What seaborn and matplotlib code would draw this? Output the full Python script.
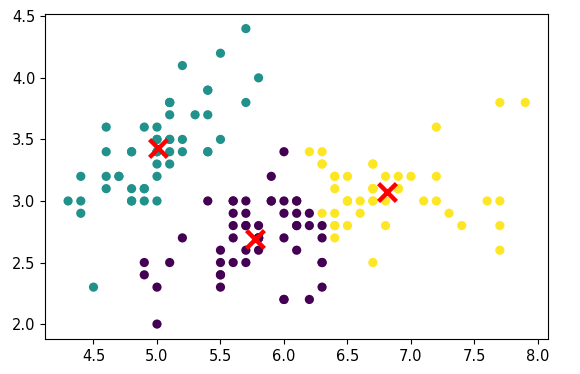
import numpy as np
import pandas as pd
import seaborn as sns
import matplotlib
matplotlib.use('Agg')
import matplotlib.pyplot as plt

# iris sepal length / sepal width, with k-means cluster labels (k=3)
sepal_length = [
    5.1, 4.9, 4.7, 4.6, 5.0, 5.4, 4.6, 5.0, 4.4, 4.9, 5.4, 4.8, 4.8, 4.3, 5.8, 5.7, 5.4, 5.1, 5.7, 5.1,
    5.4, 5.1, 4.6, 5.1, 4.8, 5.0, 5.0, 5.2, 5.2, 4.7, 4.8, 5.4, 5.2, 5.5, 4.9, 5.0, 5.5, 4.9, 4.4, 5.1,
    5.0, 4.5, 4.4, 5.0, 5.1, 4.8, 5.1, 4.6, 5.3, 5.0,
    7.0, 6.4, 6.9, 5.5, 6.5, 5.7, 6.3, 4.9, 6.6, 5.2, 5.0, 5.9, 6.0, 6.1, 5.6, 6.7, 5.6, 5.8, 6.2, 5.6,
    5.9, 6.1, 6.3, 6.1, 6.4, 6.6, 6.8, 6.7, 6.0, 5.7, 5.5, 5.5, 5.8, 6.0, 5.4, 6.0, 6.7, 6.3, 5.6, 5.5,
    5.5, 6.1, 5.8, 5.0, 5.6, 5.7, 5.7, 6.2, 5.1, 5.7,
    6.3, 5.8, 7.1, 6.3, 6.5, 7.6, 4.9, 7.3, 6.7, 7.2, 6.5, 6.4, 6.8, 5.7, 5.8, 6.4, 6.5, 7.7, 7.7, 6.0,
    6.9, 5.6, 7.7, 6.3, 6.7, 7.2, 6.2, 6.1, 6.4, 7.2, 7.4, 7.9, 6.4, 6.3, 6.1, 7.7, 6.3, 6.4, 6.0, 6.9,
    6.7, 6.9, 5.8, 6.8, 6.7, 6.7, 6.3, 6.5, 6.2, 5.9,
]
sepal_width = [
    3.5, 3.0, 3.2, 3.1, 3.6, 3.9, 3.4, 3.4, 2.9, 3.1, 3.7, 3.4, 3.0, 3.0, 4.0, 4.4, 3.9, 3.5, 3.8, 3.8,
    3.4, 3.7, 3.6, 3.3, 3.4, 3.0, 3.4, 3.5, 3.4, 3.2, 3.1, 3.4, 4.1, 4.2, 3.1, 3.2, 3.5, 3.6, 3.0, 3.4,
    3.5, 2.3, 3.2, 3.5, 3.8, 3.0, 3.8, 3.2, 3.7, 3.3,
    3.2, 3.2, 3.1, 2.3, 2.8, 2.8, 3.3, 2.4, 2.9, 2.7, 2.0, 3.0, 2.2, 2.9, 2.9, 3.1, 3.0, 2.7, 2.2, 2.5,
    3.2, 2.8, 2.5, 2.8, 2.9, 3.0, 2.8, 3.0, 2.9, 2.6, 2.4, 2.4, 2.7, 2.7, 3.0, 3.4, 3.1, 2.3, 3.0, 2.5,
    2.6, 3.0, 2.6, 2.3, 2.7, 3.0, 2.9, 2.9, 2.5, 2.8,
    3.3, 2.7, 3.0, 2.9, 3.0, 3.0, 2.5, 2.9, 2.5, 3.6, 3.2, 2.7, 3.0, 2.5, 2.8, 3.2, 3.0, 3.8, 2.6, 2.2,
    3.2, 2.8, 2.8, 2.7, 3.3, 3.2, 2.8, 3.0, 2.8, 3.0, 2.8, 3.8, 2.8, 2.8, 2.6, 3.0, 3.4, 3.1, 3.0, 3.1,
    3.1, 3.1, 2.7, 3.2, 3.3, 3.0, 2.5, 3.0, 3.4, 3.0,
]
cluster = [
    1, 1, 1, 1, 1, 1, 1, 1, 1, 1, 1, 1, 1, 1, 1, 1, 1, 1, 1, 1,
    1, 1, 1, 1, 1, 1, 1, 1, 1, 1, 1, 1, 1, 1, 1, 1, 1, 1, 1, 1,
    1, 1, 1, 1, 1, 1, 1, 1, 1, 1,
    2, 2, 2, 0, 2, 0, 2, 0, 2, 0, 0, 0, 0, 0, 0, 2, 0, 0, 0, 0,
    0, 0, 0, 0, 2, 2, 2, 2, 0, 0, 0, 0, 0, 0, 0, 0, 2, 0, 0, 0,
    0, 0, 0, 0, 0, 0, 0, 0, 0, 0,
    2, 0, 2, 2, 2, 2, 0, 2, 2, 2, 2, 2, 2, 0, 0, 2, 2, 2, 2, 0,
    2, 0, 2, 0, 2, 2, 0, 0, 2, 2, 2, 2, 2, 0, 0, 2, 2, 2, 0, 2,
    2, 2, 0, 2, 2, 2, 0, 2, 2, 0,
]

# cluster centres
centre_x = [5.774, 5.006, 6.813]
centre_y = [2.692, 3.428, 3.074]

df = pd.DataFrame({'x': sepal_length, 'y': sepal_width, 'cluster': cluster})
centres = pd.DataFrame({'x': centre_x, 'y': centre_y})

fig, ax = plt.subplots(figsize=(5.8, 3.74), dpi=100)
plt.subplots_adjust(left=0.078, right=0.945, top=0.963, bottom=0.094)

sns.scatterplot(data=df, x='x', y='y', hue='cluster', palette='viridis',
                hue_norm=(0, 2), s=44, linewidth=0, legend=False, ax=ax)
ax.scatter(centres['x'], centres['y'], marker='x', color='red', s=165, linewidths=3.2)

ax.set_xlabel('')
ax.set_ylabel('')
ax.set_xticks([4.5, 5.0, 5.5, 6.0, 6.5, 7.0, 7.5, 8.0])
ax.set_yticks([2.0, 2.5, 3.0, 3.5, 4.0, 4.5])
ax.tick_params(labelsize=10.5)
ax.set_xlim(4.12, 8.08)
ax.set_ylim(1.88, 4.52)

plt.savefig('out.png', dpi=100)
